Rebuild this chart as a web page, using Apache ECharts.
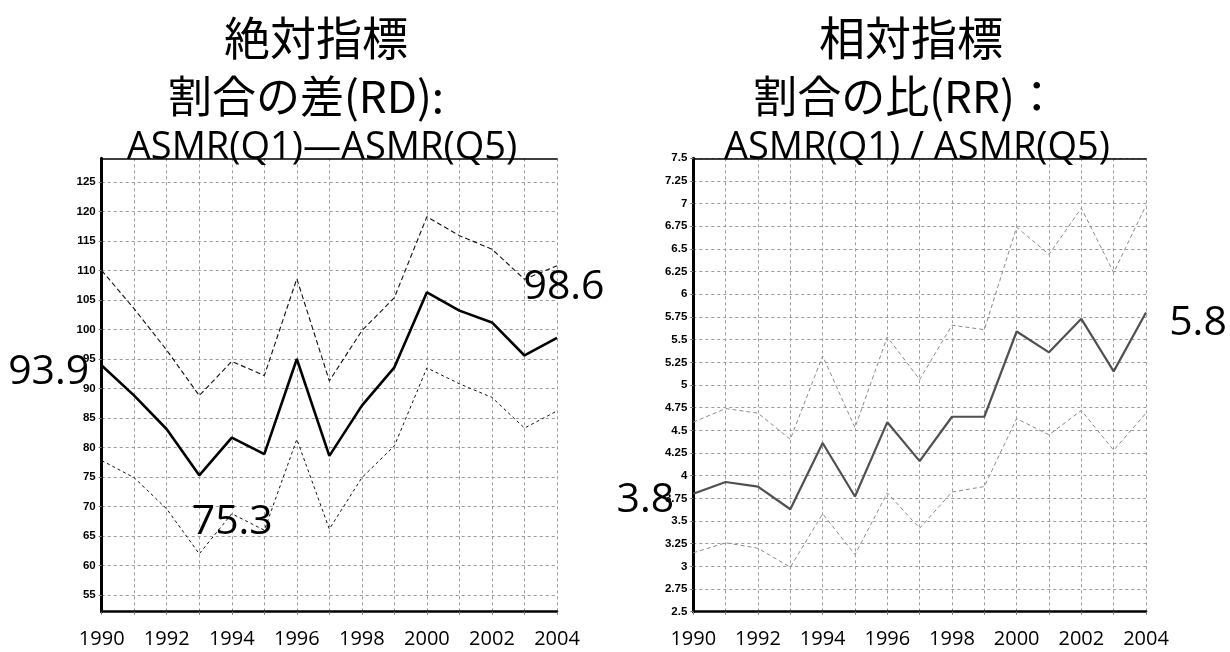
<!DOCTYPE html>
<html>
<head>
<meta charset="utf-8">
<script src="https://cdn.jsdelivr.net/npm/echarts@6/dist/echarts.min.js"></script>
<style>
  html, body { margin: 0; padding: 0; background: #fff; }
  #chart { width: 1230px; height: 652px; }
</style>
</head>
<body>
<div id="chart"></div>
<script>
// Years on the horizontal axis of both panels
const years = ['1990', '1991', '1992', '1993', '1994', '1995', '1996', '1997',
  '1998', '1999', '2000', '2001', '2002', '2003', '2004'];

// Rate difference, ASMR(Q1) - ASMR(Q5): estimate and its upper / lower bounds
const rdValue = [93.9, 88.8, 83.1, 75.3, 81.7, 78.9, 95.0, 78.6, 87.1, 93.6, 106.3, 103.2, 101.2, 95.6, 98.6];
const rdUpper = [110.0, 103.5, 96.5, 88.8, 94.6, 92.2, 108.6, 91.3, 99.8, 105.4, 119.1, 115.9, 113.6, 108.5, 110.8];
const rdLower = [77.8, 74.9, 69.6, 62.0, 68.8, 66.0, 81.4, 66.2, 74.9, 80.3, 93.5, 90.8, 88.5, 83.3, 86.2];

// Rate ratio, ASMR(Q1) / ASMR(Q5): estimate and its upper / lower bounds
const rrValue = [3.8, 3.93, 3.88, 3.63, 4.36, 3.77, 4.59, 4.16, 4.65, 4.65, 5.59, 5.36, 5.73, 5.15, 5.8];
const rrUpper = [4.59, 4.74, 4.69, 4.40, 5.32, 4.53, 5.53, 5.06, 5.66, 5.61, 6.74, 6.44, 6.95, 6.24, 6.98];
const rrLower = [3.15, 3.26, 3.20, 2.99, 3.58, 3.13, 3.81, 3.42, 3.82, 3.88, 4.63, 4.45, 4.72, 4.28, 4.69];

// Tick labels on the vertical axes
const rdTicks = [55, 60, 65, 70, 75, 80, 85, 90, 95, 100, 105, 110, 115, 120, 125];
const rrTicks = [2.5, 2.75, 3, 3.25, 3.5, 3.75, 4, 4.25, 4.5, 4.75, 5, 5.25, 5.5, 5.75, 6,
  6.25, 6.5, 6.75, 7, 7.25, 7.5];

// Titles of the two panels
const leftTitle = ['絶対指標', '割合の差(RD):', 'ASMR(Q1)—ASMR(Q5)'];
const rightTitle = ['相対指標', '割合の比(RR)：', 'ASMR(Q1) / ASMR(Q5)'];

const LATIN = '"Open Sans", "Noto Sans", sans-serif';
const CJK = '"Noto Sans CJK JP", "Noto Sans", sans-serif';
const SMALL = '"Liberation Sans Narrow", "Liberation Sans", sans-serif';

const gridLine = { show: true, lineStyle: { color: '#9a9a9a', width: 1, type: [3, 3] } };

// Points that carry a value callout: index -> label offset from the point
function annotate(values, callouts) {
  return values.map((v, i) => callouts[i]
    ? { value: v, label: { show: true, position: 'inside', offset: callouts[i],
        formatter: '{c}', fontFamily: LATIN, fontSize: 41, color: '#000' } }
    : v);
}

function bottomAxis(gridIndex) {
  return {
    type: 'category', gridIndex, data: years, boundaryGap: false,
    axisLine: { lineStyle: { color: '#000', width: 2.5 } },
    axisTick: { show: true, interval: 0, length: 3, lineStyle: { color: '#777' } },
    axisLabel: { interval: 1, margin: 18, fontFamily: LATIN, fontSize: 20, color: '#000' },
    splitLine: Object.assign({ interval: 0 }, gridLine)
  };
}

function topAxis(gridIndex) {
  return {
    type: 'category', gridIndex, data: years, boundaryGap: false, position: 'top',
    axisLine: { lineStyle: { color: '#000', width: 1.5 } },
    axisTick: { show: false }, axisLabel: { show: false }, splitLine: { show: false }
  };
}

const yLabel = { fontFamily: SMALL, fontWeight: 'bold', fontSize: 11.5, color: '#000', margin: 6 };
const yLine = { show: true, lineStyle: { color: '#000', width: 3 } };
const yTick = { show: true, length: 3, lineStyle: { color: '#777' } };

function lineSeries(xi, yi, data, color, width, dash) {
  return {
    type: 'line', xAxisIndex: xi, yAxisIndex: yi, data,
    symbol: 'circle', symbolSize: 0, showSymbol: true, silent: true,
    lineStyle: { color, width, type: dash || 'solid' },
    itemStyle: { color }, z: dash ? 3 : 4, animation: false
  };
}

// Three centred title lines above a panel
function titleText(lines, cx) {
  const rows = [
    { y: 38, font: '46px ' + CJK },
    { y: 96, font: '44px ' + CJK },
    { y: 148, font: '38px ' + LATIN }
  ];
  return rows.map((r, i) => ({
    type: 'text', x: cx[i], y: r.y, z: 10,
    style: { text: lines[i], font: r.font, fill: '#000', align: 'center', verticalAlign: 'middle' }
  }));
}

const chart = echarts.init(document.getElementById('chart'), null, { renderer: 'canvas' });

chart.setOption({
  backgroundColor: '#fff',
  animation: false,
  grid: [
    { left: 101.7, right: 673, top: 158.3, bottom: 40.3 },
    { left: 693.3, right: 84, top: 158.3, bottom: 40.3 }
  ],
  xAxis: [bottomAxis(0), bottomAxis(1), topAxis(0), topAxis(1)],
  yAxis: [
    {
      type: 'value', gridIndex: 0, min: 52.2, max: 129,
      axisLine: yLine,
      axisTick: Object.assign({ customValues: rdTicks }, yTick),
      axisLabel: Object.assign({ customValues: rdTicks }, yLabel),
      splitLine: gridLine
    },
    {
      type: 'value', gridIndex: 1, min: rrTicks[0], max: rrTicks[rrTicks.length - 1], interval: 0.25,
      axisLine: yLine,
      axisTick: yTick,
      axisLabel: yLabel,
      splitLine: gridLine
    }
  ],
  series: [
    lineSeries(0, 0, rdUpper, '#111', 1.1, [5, 3]),
    lineSeries(0, 0, rdLower, '#111', 1, [3, 3]),
    lineSeries(0, 0, annotate(rdValue, { 0: [-53, 7], 3: [33, 47], 14: [7, -50] }), '#000', 2.6),
    lineSeries(1, 1, rrUpper, '#8a8a8a', 1, [4, 3]),
    lineSeries(1, 1, rrLower, '#8a8a8a', 1, [4, 3]),
    lineSeries(1, 1, annotate(rrValue, { 0: [-48, 7], 14: [52, 11] }), '#505050', 2.2)
  ],
  graphic: [].concat(
    titleText(leftTitle, [316, 306, 322]),
    titleText(rightTitle, [911, 906, 917])
  )
});
</script>
</body>
</html>
